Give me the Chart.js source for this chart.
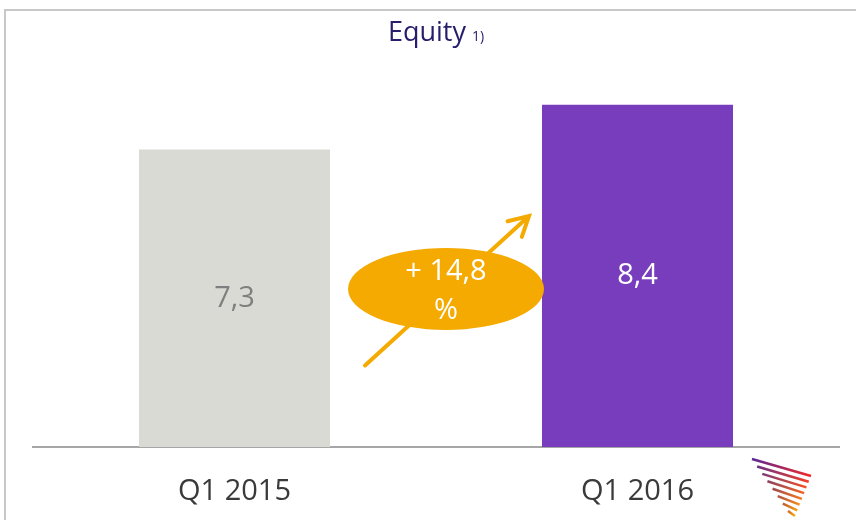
<!DOCTYPE html>
<html lang="en">
<head>
    <meta charset="UTF-8">
    <title>Equity</title>
    <script src="https://cdn.jsdelivr.net/npm/chart.js"></script>
    <style>
        html, body { margin:0; padding:0; background:#fff; overflow:hidden; }
        #wrap { position:relative; width:856px; height:520px; }
        #frame { position:absolute; left:4px; top:9px; width:900px; height:600px; border-left:2px solid #c8c8c8; border-top:2px solid #c8c8c8; }
        #title { position:absolute; left:0; top:12px; width:872px; text-align:center; font-family:"Open Sans", sans-serif; font-size:27px; color:#261d6c; }
        #title span { font-size:14px; margin-left:6px; }
        canvas { position:absolute; left:0; top:0; }
    </style>
</head>
<body>
<div id="wrap">
    <div id="frame"></div>
    <canvas id="myChart" width="856" height="520"></canvas>
    <div id="title">Equity<span>1)</span></div>
</div>

<script>
    // data
    const categories = ['Q1 2015', 'Q1 2016'];
    const equity = [7.3, 8.4];
    const valueLabels = ['7,3', '8,4'];
    const changeLabel = ['+ 14,8', '%'];

    const barColors = ['#dadad5', '#783dbd'];
    const labelColors = ['#7f7f7f', '#ffffff'];

    // labels in the middle of the bars
    const barLabels = {
        id: 'barLabels',
        afterDatasetsDraw(chart) {
            const ctx = chart.ctx;
            const meta = chart.getDatasetMeta(0);
            ctx.save();
            ctx.font = '29px "Open Sans", sans-serif';
            ctx.textAlign = 'center';
            ctx.textBaseline = 'middle';
            meta.data.forEach((bar, i) => {
                ctx.fillStyle = labelColors[i];
                ctx.fillText(valueLabels[i], bar.x, (bar.y + bar.base) / 2);
            });
            ctx.restore();
        }
    };

    // growth arrow + ellipse
    const growth = {
        id: 'growth',
        afterDatasetsDraw(chart) {
            const ctx = chart.ctx;
            const xs = chart.scales.x, ys = chart.scales.y;
            const mid = (xs.getPixelForValue(0) + xs.getPixelForValue(1)) / 2;
            const cx = mid + 10, cy = ys.getPixelForValue(3.88);
            const x1 = mid - 71, y1 = ys.getPixelForValue(2.0);
            const x2 = mid + 93, y2 = ys.getPixelForValue(5.67);
            ctx.save();
            ctx.strokeStyle = '#f4aa00';
            ctx.lineWidth = 4;
            ctx.lineCap = 'round';
            ctx.beginPath();
            ctx.moveTo(x1, y1);
            ctx.lineTo(x2, y2);
            const a = Math.atan2(y2 - y1, x2 - x1);
            const h = 22;
            ctx.moveTo(x2 - h * Math.cos(a - 0.5), y2 - h * Math.sin(a - 0.5));
            ctx.lineTo(x2, y2);
            ctx.lineTo(x2 - h * Math.cos(a + 0.5), y2 - h * Math.sin(a + 0.5));
            ctx.stroke();

            ctx.fillStyle = '#f4aa00';
            ctx.beginPath();
            ctx.ellipse(cx, cy, 98, 41, 0, 0, Math.PI * 2);
            ctx.fill();

            ctx.fillStyle = '#ffffff';
            ctx.font = '29px "Open Sans", sans-serif';
            ctx.textAlign = 'center';
            ctx.textBaseline = 'middle';
            ctx.fillText(changeLabel[0], cx, cy - 17);
            ctx.fillText(changeLabel[1], cx, cy + 22);
            ctx.restore();
        }
    };

    // small striped logo, bottom right
    const logo = {
        id: 'logo',
        afterDraw(chart) {
            const ctx = chart.ctx;
            const n = 8;
            ctx.save();
            ctx.lineWidth = 2.5;
            for (let i = 0; i < n; i++) {
                const t = i / (n - 1);
                const lx = 752 + t * 36, ly = 459 + t * 52;
                const rx = 811 - t * 16, ry = 476 + t * 40;
                const g = ctx.createLinearGradient(lx, ly, rx, ry);
                g.addColorStop(0, 'rgb(' + Math.round(90 + t * 120) + ',' + Math.round(40 + t * 60) + ',' + Math.round(150 - t * 120) + ')');
                g.addColorStop(1, 'rgb(245,' + Math.round(40 + t * 140) + ',' + Math.round(40 - t * 20) + ')');
                ctx.strokeStyle = g;
                ctx.beginPath();
                ctx.moveTo(lx, ly);
                ctx.lineTo(rx, ry);
                ctx.stroke();
            }
            ctx.restore();
        }
    };

    var ctx = document.querySelector('#myChart').getContext('2d');

    var myChart = new Chart(ctx, {
        type: 'bar',
        data: {
            labels: categories,
            datasets: [{
                data: equity,
                backgroundColor: barColors,
                borderWidth: 0,
                barPercentage: 0.474,
                categoryPercentage: 1
            }]
        },
        options: {
            responsive: false,
            animation: false,
            layout: { padding: { top: 60, left: 33, right: 17, bottom: 0 } },
            plugins: {
                legend: { display: false },
                tooltip: { enabled: false }
            },
            scales: {
                x: {
                    grid: { display: false },
                    border: { display: true, color: '#a6a6a6', width: 2 },
                    ticks: {
                        padding: 19,
                        color: '#3a3a3a',
                        font: { family: '"Open Sans", sans-serif', size: 29 }
                    },
                    afterFit(scale) { scale.height = 73; }
                },
                y: {
                    display: false,
                    min: 0,
                    max: 9.5
                }
            }
        },
        plugins: [barLabels, growth, logo]
    });
</script>
</body>
</html>
